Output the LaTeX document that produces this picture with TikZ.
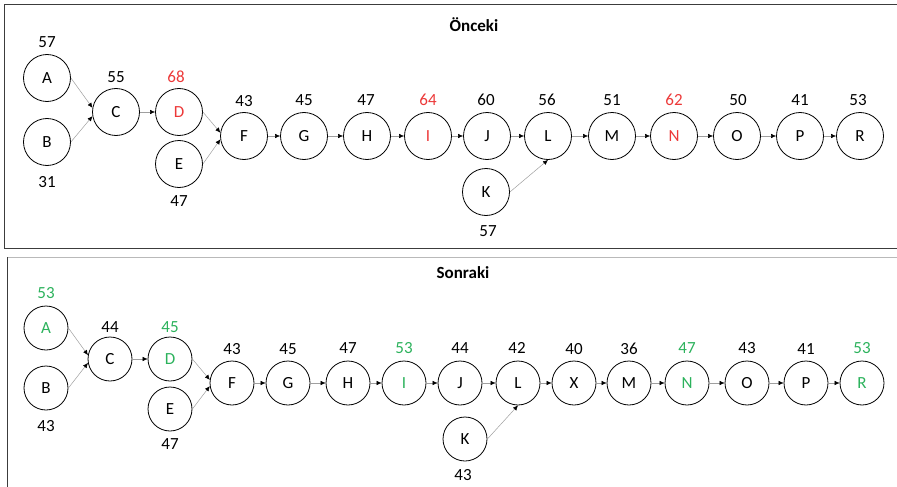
\documentclass[tikz,border=0pt]{standalone}
\usepackage{fontspec}
\setmainfont{Carlito}
\usetikzlibrary{arrows.meta}
\definecolor{hlred}{RGB}{236,56,56}
\definecolor{hlgreen}{RGB}{44,178,92}
\definecolor{frame}{RGB}{60,60,60}
\begin{document}
\begin{tikzpicture}[x=1pt,y=-1pt,
  circA/.style={circle, draw=black, line width=0.8pt, minimum size=47pt, inner sep=0pt, font=\fontsize{17}{20}\selectfont},
  circB/.style={circA, minimum size=44pt},
  val/.style={inner sep=0pt, font=\fontsize{17}{20}\selectfont},
  ttl/.style={inner sep=0pt, font=\fontsize{17}{20}\selectfont\bfseries},
  conn/.style={draw=gray!75, line width=0.5pt, -{Latex[length=5pt,width=4.5pt,color=black]}},
  red/.style={text=hlred},
  grn/.style={text=hlgreen}]
\useasboundingbox (0,0) rectangle (897,487);
% frames
\draw[frame, line width=0.9pt] (897,4) -- (4,4) -- (4,248) -- (897,248);
\draw[gray!55, line width=0.9pt] (7,257) -- (897,257);
\draw[frame, line width=0.9pt] (7,257) -- (7,487);
% ---------- top panel ----------
\node[ttl] (t1) at (474,25) {Önceki};
\node[circA] (A1) at (47,78) {A};
\node[circA] (B1) at (47,142) {B};
\node[circA] (C1) at (116,112) {C};
\node[circA,red] (D1) at (179,112) {D};
\node[circA] (E1) at (179,164) {E};
\node[circA] (F1) at (244,136) {F};
\node[circA] (G1) at (304,136) {G};
\node[circA] (H1) at (367,136) {H};
\node[circA,red] (I1) at (428,136) {I};
\node[circA] (J1) at (487,136) {J};
\node[circA] (L1) at (548,136) {L};
\node[circA] (K1) at (486,192) {K};
\node[circA] (M1) at (612,136) {M};
\node[circA,red] (N1) at (674,136) {N};
\node[circA] (O1) at (737,136) {O};
\node[circA] (P1) at (800,136) {P};
\node[circA] (R1) at (860,136) {R};
\node[val] (vA1) at (47,42) {57};
\node[val] (vB1) at (47,182) {31};
\node[val] (vC1) at (116,77) {55};
\node[val,red] (vD1) at (176,77) {68};
\node[val] (vE1) at (179,201) {47};
\node[val] (vF1) at (244,101) {43};
\node[val] (vG1) at (304,100) {45};
\node[val] (vH1) at (366,100) {47};
\node[val,red] (vI1) at (428,100) {64};
\node[val] (vJ1) at (486,100) {60};
\node[val] (vL1) at (547,100) {56};
\node[val] (vK1) at (488,231) {57};
\node[val] (vM1) at (612,100) {51};
\node[val,red] (vN1) at (674,100) {62};
\node[val] (vO1) at (738,100) {50};
\node[val] (vP1) at (800,100) {41};
\node[val] (vR1) at (858,100) {53};
\draw[conn] (A1.east) -- (C1.170);
\draw[conn] (B1.east) -- (C1.190);
\draw[conn] (C1) -- (D1);
\draw[conn] (D1.east) -- (F1.172);
\draw[conn] (E1.east) -- (F1.188);
\draw[conn] (F1) -- (G1);
\draw[conn] (G1) -- (H1);
\draw[conn] (H1) -- (I1);
\draw[conn] (I1) -- (J1);
\draw[conn] (J1) -- (L1);
\draw[conn] (K1.east) -- (L1.south);
\draw[conn] (L1) -- (M1);
\draw[conn] (M1) -- (N1);
\draw[conn] (N1) -- (O1);
\draw[conn] (O1) -- (P1);
\draw[conn] (P1) -- (R1);
% ---------- bottom panel ----------
\node[ttl] (t2) at (463,273) {Sonraki};
\node[circB,grn] (A2) at (46,328) {A};
\node[circB] (B2) at (46,388) {B};
\node[circB] (C2) at (110,359) {C};
\node[circB,grn] (D2) at (170,359) {D};
\node[circB] (E2) at (170,409) {E};
\node[circB] (F2) at (232,383) {F};
\node[circB] (G2) at (288,383) {G};
\node[circB] (H2) at (348,383) {H};
\node[circB,grn] (I2) at (404,383) {I};
\node[circB] (J2) at (460,383) {J};
\node[circB] (L2) at (518,383) {L};
\node[circB] (X2) at (574,383) {X};
\node[circB] (K2) at (465,439) {K};
\node[circB] (M2) at (629,383) {M};
\node[circB,grn] (N2) at (687,383) {N};
\node[circB] (O2) at (747,383) {O};
\node[circB] (P2) at (806,383) {P};
\node[circB,grn] (R2) at (862,383) {R};
\node[val,grn] (vA2) at (46,293) {53};
\node[val] (vB2) at (46,426) {43};
\node[val] (vC2) at (110,327) {44};
\node[val,grn] (vD2) at (170,327) {45};
\node[val] (vE2) at (170,444) {47};
\node[val] (vF2) at (232,349) {43};
\node[val] (vG2) at (288,349) {45};
\node[val] (vH2) at (348,348) {47};
\node[val,grn] (vI2) at (404,348) {53};
\node[val] (vJ2) at (460,348) {44};
\node[val] (vL2) at (517,348) {42};
\node[val] (vX2) at (574,349) {40};
\node[val] (vK2) at (463,475) {43};
\node[val] (vM2) at (629,349) {36};
\node[val,grn] (vN2) at (687,348) {47};
\node[val] (vO2) at (747,348) {43};
\node[val] (vP2) at (806,349) {41};
\node[val,grn] (vR2) at (862,348) {53};
\draw[conn] (A2.east) -- (C2.170);
\draw[conn] (B2.east) -- (C2.190);
\draw[conn] (C2) -- (D2);
\draw[conn] (D2.east) -- (F2.172);
\draw[conn] (E2.east) -- (F2.188);
\draw[conn] (F2) -- (G2);
\draw[conn] (G2) -- (H2);
\draw[conn] (H2) -- (I2);
\draw[conn] (I2) -- (J2);
\draw[conn] (J2) -- (L2);
\draw[conn] (K2.east) -- (L2.south);
\draw[conn] (L2) -- (X2);
\draw[conn] (X2) -- (M2);
\draw[conn] (M2) -- (N2);
\draw[conn] (N2) -- (O2);
\draw[conn] (O2) -- (P2);
\draw[conn] (P2) -- (R2);
\end{tikzpicture}
\end{document}
